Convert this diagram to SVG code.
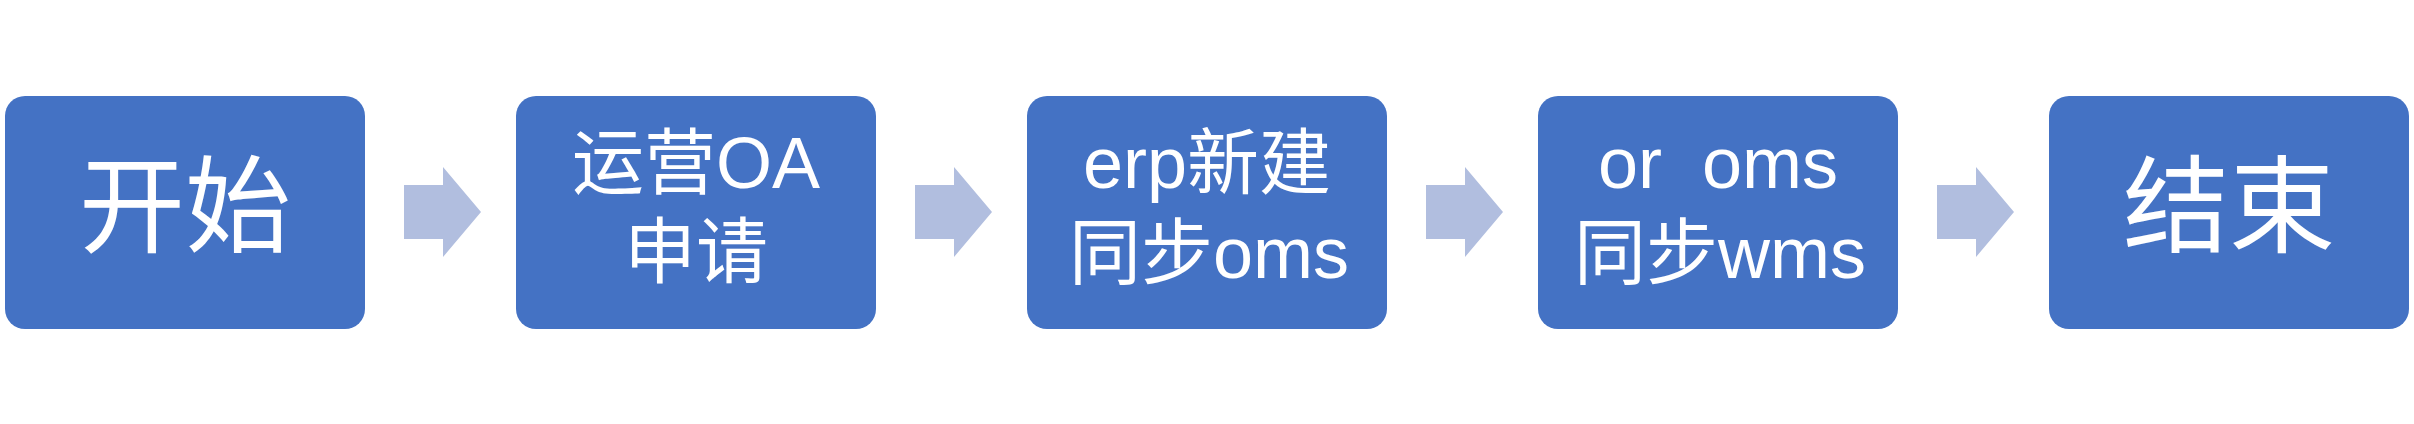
<svg xmlns="http://www.w3.org/2000/svg" width="2414" height="424" viewBox="0 0 2414 424">
<style>
.box{fill:#4472C4;}
.arr{fill:#B1BEDF;}
.big{font-family:"Noto Sans CJK SC","Noto Sans",sans-serif;font-size:106px;fill:#FFFFFF;text-anchor:middle;}
.lbl{font-family:"Liberation Sans","Noto Sans CJK SC",sans-serif;font-size:72px;fill:#FFFFFF;text-anchor:middle;white-space:pre;}
</style>
<rect width="2414" height="424" fill="#FFFFFF"/>
<g id="connectors">
<path class="arr" d="M404,185 H443 V167 L481,212 L443,257 V239 H404 Z"/>
<path class="arr" d="M915,185 H954 V167 L992,212 L954,257 V239 H915 Z"/>
<path class="arr" d="M1426,185 H1465 V167 L1503,212 L1465,257 V239 H1426 Z"/>
<path class="arr" d="M1937,185 H1976 V167 L2014,212 L1976,257 V239 H1937 Z"/>
</g>
<g id="node-start">
<rect class="box" x="5" y="96" width="360" height="233" rx="20" ry="20"/>
<text class="big" x="185" y="244">开始</text>
</g>
<g id="node-oa">
<rect class="box" x="516" y="96" width="360" height="233" rx="20" ry="20"/>
<text class="lbl" x="696" y="188">运营OA</text>
<text class="lbl" x="696" y="277">申请</text>
</g>
<g id="node-erp">
<rect class="box" x="1027" y="96" width="360" height="233" rx="20" ry="20"/>
<text class="lbl" x="1207" y="188">erp新建</text>
<text class="lbl" x="1209" y="278">同步oms</text>
</g>
<g id="node-oms">
<rect class="box" x="1538" y="96" width="360" height="233" rx="20" ry="20"/>
<text class="lbl" x="1718" y="188" xml:space="preserve">or  oms</text>
<text class="lbl" x="1720" y="278">同步wms</text>
</g>
<g id="node-end">
<rect class="box" x="2049" y="96" width="360" height="233" rx="20" ry="20"/>
<text class="big" x="2229" y="244">结束</text>
</g>
</svg>
